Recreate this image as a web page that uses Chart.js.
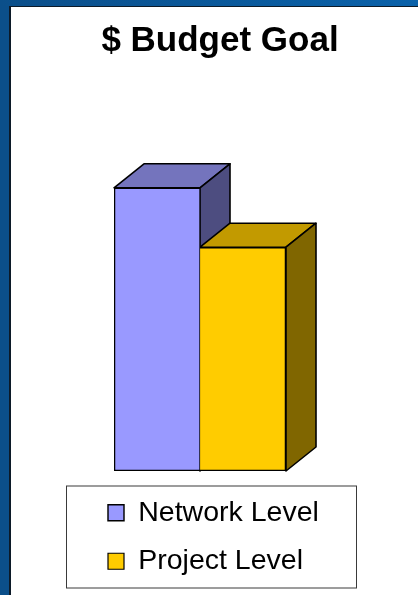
<!DOCTYPE html>
<html>
<head>
<meta charset="utf-8">
<title>$ Budget Goal</title>
<script src="https://cdn.jsdelivr.net/npm/chart.js@4/dist/chart.umd.min.js"></script>
<style>
  html, body { margin: 0; padding: 0; width: 418px; height: 595px; overflow: hidden; background: #0b4f8a; }
  #frameTop { position: absolute; left: 0; top: 0; width: 418px; height: 6px;
              background: linear-gradient(to right, #0b4f8a, #0a62aa); }
  #panel { position: absolute; left: 9px; top: 6px; right: 0; bottom: 0; background: #ffffff;
           border-left: 2px solid #0c1a28; border-top: 1px solid #0c1a28; }
  #chartBox { position: absolute; left: 0; top: 0; width: 418px; height: 595px; }
</style>
</head>
<body>
<div id="frameTop"></div>
<div id="panel"></div>
<div id="chartBox"><canvas id="chart" width="418" height="595"></canvas></div>
<script>
// Budget goal data
const categories = ['Budget Goal'];
const seriesNames = ['Network Level', 'Project Level'];
const networkValues = [100];
const projectValues = [79];

// Face shading for the pseudo-3D columns
const frontColors = ['#9999ff', '#ffcc00'];
const topColors = ['#7474bd', '#c29a00'];
const sideColors = ['#4d4d80', '#806600'];
const DEPTH_X = 30;
const DEPTH_Y = 24;
const FONT = "'Liberation Sans', Arial, sans-serif";

// Draws the top and right faces of every bar before the front faces are painted
const extrudeBars = {
  id: 'extrudeBars',
  beforeDatasetsDraw(chart) {
    const ctx = chart.ctx;
    ctx.save();
    ctx.lineWidth = 1.6;
    ctx.strokeStyle = '#000';
    ctx.lineJoin = 'round';
    const face = (pts, fill) => {
      ctx.beginPath();
      ctx.moveTo(pts[0][0], pts[0][1]);
      for (let k = 1; k < pts.length; k++) ctx.lineTo(pts[k][0], pts[k][1]);
      ctx.closePath();
      ctx.fillStyle = fill;
      ctx.fill();
      ctx.stroke();
    };
    chart.data.datasets.forEach((ds, i) => {
      chart.getDatasetMeta(i).data.forEach(bar => {
        const p = bar.getProps(['x', 'y', 'base', 'width'], true);
        const l = p.x - p.width / 2;
        const r = p.x + p.width / 2;
        face([[l, p.y], [l + DEPTH_X, p.y - DEPTH_Y], [r + DEPTH_X, p.y - DEPTH_Y], [r, p.y]], topColors[i]);
        face([[r, p.y], [r + DEPTH_X, p.y - DEPTH_Y], [r + DEPTH_X, p.base - DEPTH_Y], [r, p.base]], sideColors[i]);
      });
    });
    ctx.restore();
  }
};

// Frame around the legend
const legendFrame = {
  id: 'legendFrame',
  afterDraw(chart) {
    const lg = chart.legend;
    if (!lg) return;
    const ctx = chart.ctx;
    ctx.save();
    ctx.strokeStyle = '#3a3a3a';
    ctx.lineWidth = 1;
    const left = lg.left - 21.5;
    const right = lg.right + 4.5;
    ctx.strokeRect(left, lg.top + 7.5, right - left, 102);
    ctx.restore();
  }
};

const hiddenAxis = {
  grid: { display: false },
  border: { display: false },
  ticks: { display: false }
};

new Chart(document.getElementById('chart'), {
  type: 'bar',
  data: {
    labels: categories,
    datasets: [
      { label: seriesNames[0], data: networkValues, backgroundColor: frontColors[0],
        borderColor: '#000', borderWidth: { left: 1.6, top: 1.6, bottom: 1.6, right: 1 }, borderSkipped: false },
      { label: seriesNames[1], data: projectValues, backgroundColor: frontColors[1],
        borderColor: '#000', borderWidth: { left: 0, top: 1.6, bottom: 1.6, right: 1.6 }, borderSkipped: false }
    ]
  },
  options: {
    responsive: false,
    animation: false,
    devicePixelRatio: 1,
    barPercentage: 1,
    categoryPercentage: 1,
    layout: { padding: { left: 88, right: 66, top: 7, bottom: 9.5 } },
    scales: {
      x: Object.assign({ type: 'category', offset: true, afterFit: s => { s.height = 7.5; } }, hiddenAxis),
      y: Object.assign({ type: 'linear', position: 'left', min: 0, max: 130,
                         afterFit: s => { s.width = 26; } }, hiddenAxis),
      depth: Object.assign({ type: 'linear', position: 'right',
                             afterFit: s => { s.width = 66; } }, hiddenAxis)
    },
    plugins: {
      tooltip: { enabled: false },
      title: {
        display: true,
        text: '$ Budget Goal',
        color: '#000',
        font: { family: FONT, size: 35, weight: 'bold', lineHeight: 1.2 },
        padding: { top: 13, bottom: 40.8 }
      },
      legend: {
        display: true,
        position: 'bottom',
        align: 'start',
        labels: {
          color: '#000',
          font: { family: FONT, size: 28.5 },
          boxWidth: 16,
          boxHeight: 16,
          padding: 20
        }
      }
    }
  },
  plugins: [extrudeBars, legendFrame]
});
</script>
</body>
</html>
